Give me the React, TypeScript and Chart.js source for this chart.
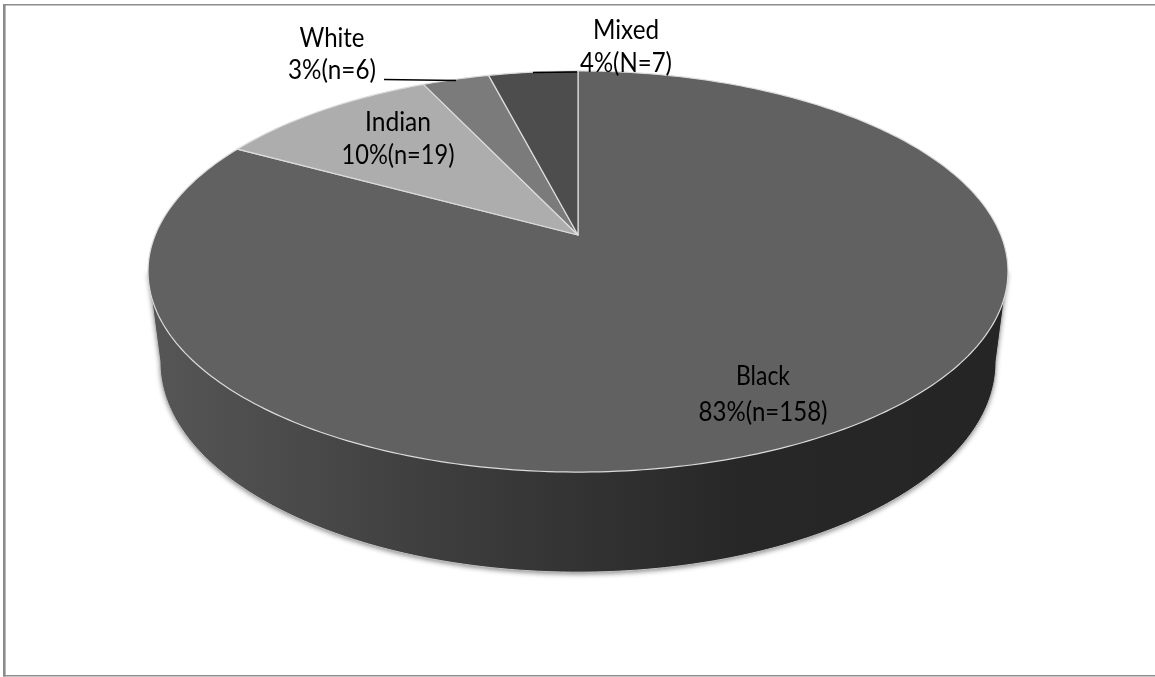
import React, { useEffect, useRef } from "react";
import { Chart, registerables } from "chart.js";

Chart.register(...registerables);

const categories = ["Black", "Indian", "White", "Mixed"];
const percents = [83, 10, 3, 4];
const percentLabels = ["83%(n=158)", "10%(n=19)", "3%(n=6)", "4%(N=7)"];
const sliceColors = ["#616161", "#adadad", "#7b7b7b", "#4d4d4d"];
const labelFont = "26px Lato";
const labelCentres = [
  { x: 763, y1: 385, y2: 421, w1: 54, w2: 129 },
  { x: 398, y1: 131, y2: 164, w1: 66, w2: 113 },
  { x: 332, y1: 47, y2: 79, w1: 65, w2: 88 },
  { x: 626, y1: 39, y2: 72, w1: 66, w2: 92 },
];
const leaderLines = [
  [384, 79.5, 456, 80.5],
  [533, 72.5, 577, 72],
];

// Perspective projection of the unit disc (y up) onto the page.
const K = 0.182;
const topDisc = { cx: 578, cy: 235, a: 422.8, b: 193.9 };
const lowDisc = { cx: 578, cy: 324, a: 411, b: 203 };
const project = (d: typeof topDisc, x: number, y: number) => {
  const w = 1 + K * y;
  return [d.cx + (d.a * x) / w, d.cy - (d.b * y) / w];
};
const onCircle = (d: typeof topDisc, angle: number) =>
  project(d, Math.cos(angle), -Math.sin(angle));

const pie3d = {
  id: "pie3d",
  beforeDraw(chart: any) {
    const { ctx, width, height } = chart;
    ctx.save();
    ctx.fillStyle = "#ffffff";
    ctx.fillRect(0, 0, width, height);
    ctx.fillStyle = "#8c8c8c";
    ctx.fillRect(3, 4, width - 3, 1.5);
    ctx.fillRect(3, 4, 2.6, 672.5);
    ctx.fillRect(3, 675, width - 3, 1.5);
    ctx.restore();
  },
  beforeDatasetDraw(chart: any, args: any) {
    const { ctx } = chart;
    const arcs = args.meta.data;
    const a0 = Math.PI - Math.asin(K);
    const a1 = Math.asin(K);
    const steps = 240;

    // side wall
    ctx.save();
    ctx.beginPath();
    for (let i = 0; i <= steps; i++) {
      const t = a0 + ((a1 - a0) * i) / steps;
      const [x, y] = onCircle(lowDisc, t);
      if (i === 0) ctx.moveTo(x, y);
      else ctx.lineTo(x, y);
    }
    const [rx, ry] = onCircle(topDisc, a1);
    const [lx, ly] = onCircle(topDisc, a0);
    ctx.lineTo(rx, ry);
    ctx.lineTo(lx, ly);
    ctx.closePath();
    const grad = ctx.createLinearGradient(150, 0, 1005, 0);
    grad.addColorStop(0, "#565656");
    grad.addColorStop(0.17, "#4a4a4a");
    grad.addColorStop(0.33, "#3e3e3e");
    grad.addColorStop(0.5, "#333333");
    grad.addColorStop(0.69, "#272727");
    grad.addColorStop(1, "#252525");
    ctx.shadowColor = "rgba(0,0,0,0.45)";
    ctx.shadowBlur = 5;
    ctx.shadowOffsetY = 2;
    ctx.fillStyle = grad;
    ctx.fill();
    ctx.shadowColor = "transparent";
    ctx.strokeStyle = "#c4c4c4";
    ctx.lineWidth = 1;
    ctx.stroke();
    ctx.restore();

    // top face
    arcs.forEach((arc: any, i: number) => {
      const { startAngle, endAngle } = arc.getProps(["startAngle", "endAngle"]);
      const n = Math.max(8, Math.ceil((endAngle - startAngle) * 60));
      ctx.beginPath();
      ctx.moveTo(topDisc.cx, topDisc.cy);
      for (let s = 0; s <= n; s++) {
        const [x, y] = onCircle(topDisc, startAngle + ((endAngle - startAngle) * s) / n);
        ctx.lineTo(x, y);
      }
      ctx.closePath();
      ctx.fillStyle = sliceColors[i];
      ctx.fill();
      ctx.strokeStyle = "#dcdcdc";
      ctx.lineWidth = 1.2;
      ctx.lineJoin = "round";
      ctx.stroke();
    });
    return false;
  },
  afterDatasetsDraw(chart: any) {
    const { ctx } = chart;
    ctx.save();
    ctx.strokeStyle = "#000000";
    ctx.lineWidth = 1.6;
    leaderLines.forEach(([x1, y1, x2, y2]) => {
      ctx.beginPath();
      ctx.moveTo(x1, y1);
      ctx.lineTo(x2, y2);
      ctx.stroke();
    });
    ctx.fillStyle = "#000000";
    ctx.font = labelFont;
    ctx.textAlign = "center";
    ctx.textBaseline = "alphabetic";
    categories.forEach((name, i) => {
      const p = labelCentres[i];
      ctx.fillText(name, p.x, p.y1, p.w1);
      ctx.fillText(percentLabels[i], p.x, p.y2, p.w2);
    });
    ctx.restore();
  },
};

export default function App() {
  const ref = useRef<HTMLCanvasElement>(null);
  useEffect(() => {
    document.body.style.margin = "0";
    const chart = new Chart(ref.current!, {
      type: "pie",
      data: {
        labels: categories,
        datasets: [{ data: percents, backgroundColor: sliceColors, borderWidth: 0 }],
      },
      options: {
        responsive: false,
        animation: false,
        plugins: { legend: { display: false }, tooltip: { enabled: false } },
      },
      plugins: [pie3d],
    });
    return () => chart.destroy();
  }, []);
  return (
    <canvas
      ref={ref}
      width={1155}
      height={677}
      style={{ display: "block", position: "absolute", left: 0, top: 0 }}
    />
  );
}
